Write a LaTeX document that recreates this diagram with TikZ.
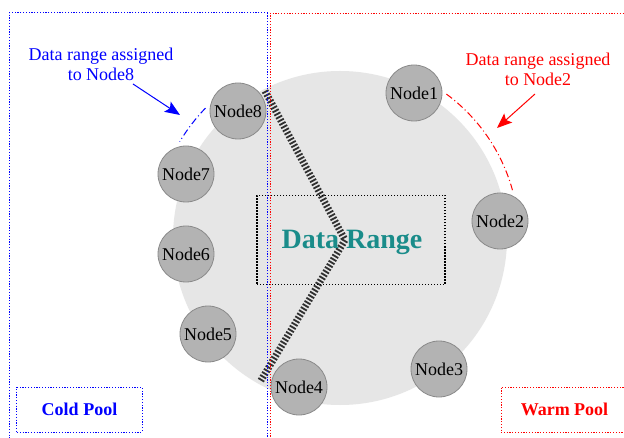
\documentclass[tikz,border=0pt]{standalone}
\usepackage{fontspec}
\setmainfont{Liberation Serif}
\usetikzlibrary{arrows.meta}
\definecolor{ringgray}{HTML}{E6E6E6}
\definecolor{nodegray}{HTML}{B3B3B3}
\definecolor{nodeborder}{HTML}{8A8A8A}
\definecolor{rangeteal}{HTML}{1A8C8A}
\definecolor{hatchgray}{HTML}{303030}
\begin{document}
\begin{tikzpicture}[x=1bp,y=-1bp,
  server/.style={circle,fill=nodegray,draw=nodeborder,line width=0.8bp,minimum size=56bp,inner sep=0pt,font=\fontsize{18bp}{20bp}\selectfont},
  poolline/.style={line width=1bp,dash pattern=on 1.2bp off 1.6bp},
  poolbox/.style={draw,poolline,minimum width=125bp,minimum height=45bp,inner sep=0pt,font=\fontsize{18bp}{20bp}\selectfont\bfseries},
  callout/.style={align=center,font=\fontsize{18bp}{20bp}\selectfont,inner sep=0pt},
  rangearc/.style={line width=1bp,dash pattern=on 7bp off 3bp on 1bp off 3bp},
  pointer/.style={line width=1bp,-{Stealth[length=15bp,width=12bp,inset=3bp]}}]
\clip (0,0) rectangle (624,438);
\fill[white] (0,0) rectangle (624,438);
% ring
\fill[ringgray] (340,238) circle (167);
% server nodes
\node[server] (n1) at (414,93) {Node1};
\node[server] (n2) at (500,221) {Node2};
\node[server] (n3) at (439,369) {Node3};
\node[server] (n4) at (299,387) {Node4};
\node[server] (n5) at (208,334) {Node5};
\node[server] (n6) at (186,254) {Node6};
\node[server] (n7) at (186,174) {Node7};
\node[server] (n8) at (238,111) {Node8};
% split line
\coordinate (hs) at (265,91);
\coordinate (hm) at (345,240);
\coordinate (he) at (260,382);
\draw[hatchgray,line width=7bp,dash pattern=on 1.8bp off 1.8bp] (hs) -- (hm) -- (he);
% data range box
\node[draw=black,line width=1.3bp,dash pattern=on 1.4bp off 1.6bp,minimum width=188bp,minimum height=89bp,inner sep=0pt] (box) at (351,240) {};
\node[anchor=base,text=rangeteal,font=\fontsize{28bp}{30bp}\selectfont\bfseries,inner sep=0pt] (dr) at (352,249) {Data Range};
% arcs
\coordinate (bc) at (340,238);
\draw[blue,rangearc] ([shift={(-136:187)}]bc) arc[start angle=-136,end angle=-149,radius=187];
\draw[red,rangearc] ([shift={(-53.5:179)}]bc) arc[start angle=-53.5,end angle=-15.5,radius=179];
% callouts
\node[callout,text=blue] (lb) at (101,64) {Data range assigned\\to Node8};
\node[callout,text=red] (lr) at (538,69) {Data range assigned\\to Node2};
\coordinate (tb) at (180,115);
\coordinate (tr) at (497,128);
\draw[blue,pointer] (133,84) -- (tb);
\draw[red,pointer] (535,94) -- (tr);
% pools
\draw[blue,poolline] (267,445) -- (267,13) -- (9,13) -- (9,445);
\draw[red,poolline] (270,445) -- (270,13.5) -- (632,13.5);
\node[poolbox,draw=blue,text=blue] (cold) at (79.5,409.5) {Cold Pool};
\node[poolbox,draw=red,text=red,minimum width=127bp] (warm) at (564.5,409.5) {Warm Pool};
\end{tikzpicture}
\end{document}
